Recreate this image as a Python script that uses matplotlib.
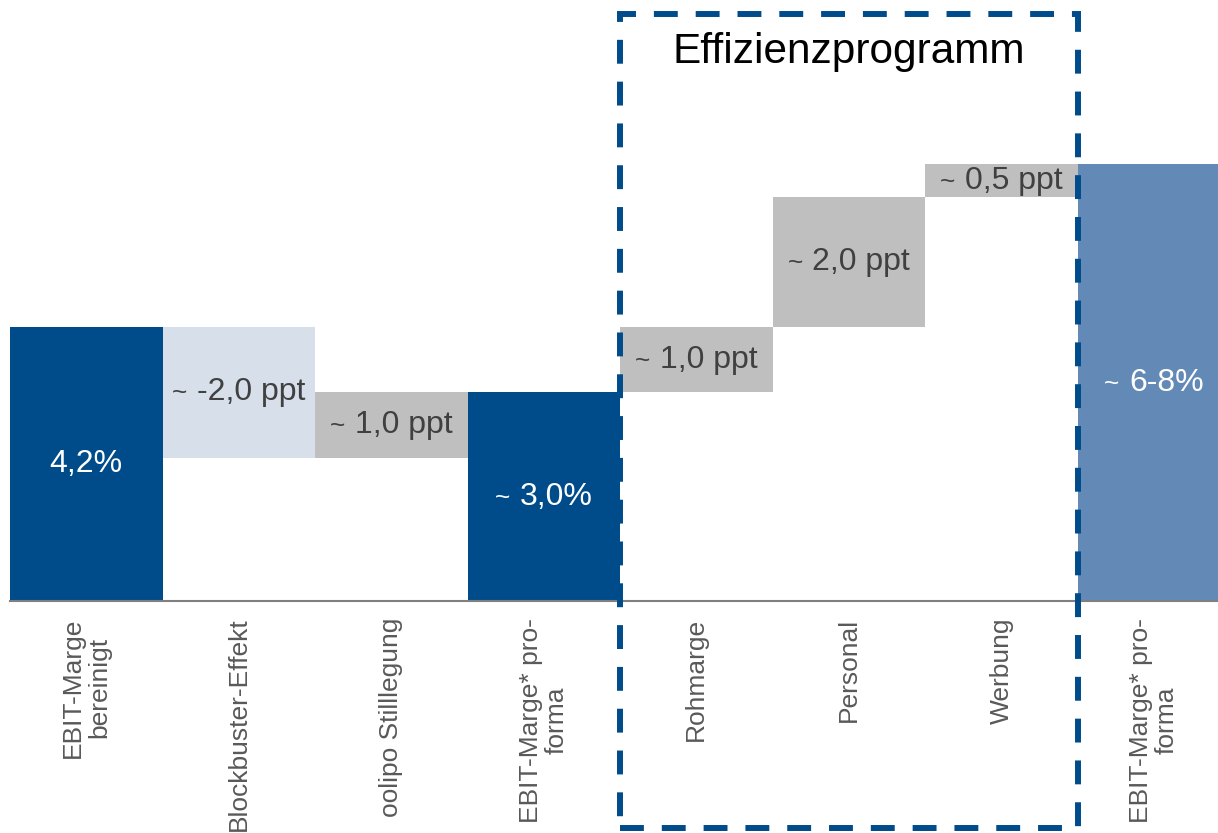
import matplotlib.pyplot as plt
from matplotlib.patches import Rectangle
from matplotlib.offsetbox import TextArea, HPacker, AnnotationBbox

plt.rcParams['font.family'] = ['Liberation Sans', 'DejaVu Sans']

# waterfall data
categories = ['EBIT-Marge\nbereinigt', 'Blockbuster-Effekt', 'oolipo Stilllegung',
              'EBIT-Marge* pro-\nforma', 'Rohmarge', 'Personal', 'Werbung',
              'EBIT-Marge* pro-\nforma']
values = [4.2, -2.0, 1.0, 0, 1.0, 2.0, 0.5, 0]
kinds = ['total', 'delta', 'delta', 'sum', 'delta', 'delta', 'delta', 'sum']
approx = [False, True, True, True, True, True, True, True]
bar_labels = ['4,2%', '-2,0 ppt', '1,0 ppt', '3,0%', '1,0 ppt',
              '2,0 ppt', '0,5 ppt', '6-8%']
colors = ['#004C8B', '#D6DFEA', '#BFBFBF', '#004C8B', '#BFBFBF', '#BFBFBF',
          '#BFBFBF', '#6389B6']
text_colors = ['white', '#404040', '#404040', 'white', '#404040', '#404040',
               '#404040', 'white']

bottoms = []
heights = []
running = 0
for v, k in zip(values, kinds):
    if k == 'total':
        bottoms.append(0)
        heights.append(v)
        running = v
    elif k == 'sum':
        bottoms.append(0)
        heights.append(running)
    else:
        bottoms.append(min(running, running + v))
        heights.append(abs(v))
        running += v

fig = plt.figure(figsize=(12.18, 8.33), dpi=100)
ax = fig.add_axes([10 / 1218, 1 - 601 / 833, 1 - 10 / 1218, 601 / 833])

x = list(range(len(categories)))
ax.bar(x, heights, bottom=bottoms, width=1.0, color=colors, linewidth=0)

# value labels, the "~" a bit smaller than the number
for i in x:
    parts = []
    if approx[i]:
        parts.append(TextArea('~', textprops=dict(fontsize=19, color=text_colors[i])))
    parts.append(TextArea(bar_labels[i], textprops=dict(fontsize=23, color=text_colors[i])))
    pack = HPacker(children=parts, align='baseline', pad=0, sep=7)
    ab = AnnotationBbox(pack, (i, bottoms[i] + heights[i] / 2), frameon=False,
                        box_alignment=(0.5, 0.5), pad=0, zorder=4)
    ax.add_artist(ab)

ax.set_xlim(-0.5, 7.42)
ax.set_ylim(0, 9.22)
ax.set_yticks([])
ax.set_xticks(x)
ax.set_xticklabels(categories, rotation=90, va='top', ha='center',
                   multialignment='center', fontsize=19, color='#595959',
                   linespacing=1.1)
ax.tick_params(axis='x', length=0, pad=12)
for s in ['top', 'right', 'left']:
    ax.spines[s].set_visible(False)
ax.spines['bottom'].set_color('#808080')
ax.spines['bottom'].set_linewidth(1.5)

# dashed box around the efficiency programme
box = Rectangle((3.5, -0.3777), 3.0, 0.9767 + 0.3777,
                transform=ax.get_xaxis_transform(), fill=False,
                edgecolor='#004C8B', linewidth=4.3, linestyle=(0, (4, 3)),
                clip_on=False, zorder=5)
ax.add_patch(box)
ax.text(5, 1 - 52 / 601, 'Effizienzprogramm', transform=ax.get_xaxis_transform(),
        ha='center', va='center', fontsize=30.5, color='black')

plt.savefig('out.png', dpi=100)
